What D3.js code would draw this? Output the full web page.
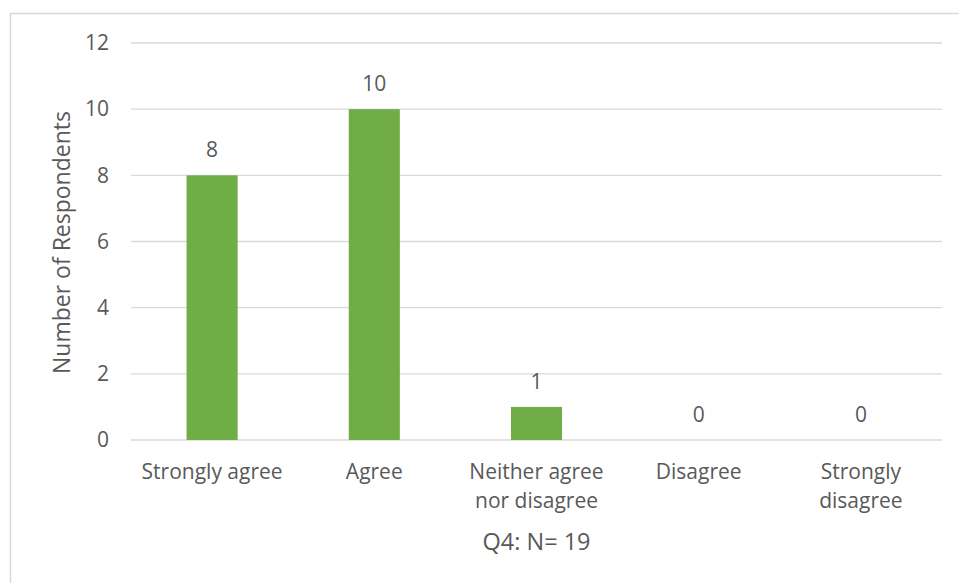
<!DOCTYPE html>
<html>
<head>
<meta charset="utf-8">
<script src="https://cdn.jsdelivr.net/npm/d3@7"></script>
<style>
  body { margin: 0; background: #fff; }
  text { font-family: "Open Sans", sans-serif; fill: #595959; }
</style>
</head>
<body>
<div id="chart"></div>
<script>
//chart data
const categories = ["Strongly agree", "Agree", "Neither agree nor disagree", "Disagree", "Strongly disagree"];
const labelLines = [["Strongly agree"], ["Agree"], ["Neither agree", "nor disagree"], ["Disagree"], ["Strongly", "disagree"]];
const counts = [8, 10, 1, 0, 0];
const yTicks = [0, 2, 4, 6, 8, 10, 12];

const W = 959, H = 583;
const margin = { top: 43, right: 17, bottom: 143, left: 131 },
    width = W - margin.left - margin.right,
    height = H - margin.top - margin.bottom;

const root = d3.select("#chart")
    .append("svg")
    .attr("width", W)
    .attr("height", H);

//chart area border (only top and left visible)
root.append("rect")
    .attr("x", 10.5)
    .attr("y", 13.5)
    .attr("width", W + 20)
    .attr("height", H + 20)
    .attr("fill", "none")
    .attr("stroke", "#d9d9d9")
    .attr("stroke-width", 1.5);

const svg = root.append("g")
    .attr("transform", `translate(${margin.left},${margin.top})`);

const x = d3.scaleBand()
    .domain(categories)
    .range([0, width])
    .paddingInner(0.685)
    .paddingOuter(0.3425);

const y = d3.scaleLinear()
    .domain([0, 12])
    .range([height, 0]);

//gridlines
svg.append("g")
    .selectAll("line")
    .data(yTicks)
    .enter().append("line")
    .attr("x1", 0)
    .attr("x2", width)
    .attr("y1", d => y(d))
    .attr("y2", d => y(d))
    .attr("stroke", "#d9d9d9")
    .attr("stroke-width", 1.3);

//y axis labels
const yAxis = svg.append("g")
    .call(d3.axisLeft(y).tickValues(yTicks).tickSize(0).tickPadding(22));
yAxis.select(".domain").remove();
yAxis.selectAll("text")
    .style("font-size", "21px")
    .style("font-family", "Open Sans, sans-serif")
    .attr("fill", "#595959");

//bars
svg.append("g")
    .selectAll("rect")
    .data(counts)
    .enter().append("rect")
    .attr("x", (d, i) => x(categories[i]))
    .attr("y", d => y(d))
    .attr("width", x.bandwidth())
    .attr("height", d => y(0) - y(d))
    .attr("fill", "#70ad47");

//data labels
svg.append("g")
    .selectAll("text")
    .data(counts)
    .enter().append("text")
    .attr("x", (d, i) => x(categories[i]) + x.bandwidth() / 2)
    .attr("y", d => y(d) - 18)
    .attr("text-anchor", "middle")
    .style("font-size", "21px")
    .text(d => d);

//category labels
const catG = svg.append("g")
    .selectAll("text")
    .data(labelLines)
    .enter().append("text")
    .attr("x", (d, i) => x(categories[i]) + x.bandwidth() / 2)
    .attr("y", height + 39)
    .attr("text-anchor", "middle")
    .style("font-size", "21px");
catG.selectAll("tspan")
    .data(d => d)
    .enter().append("tspan")
    .attr("x", function () { return d3.select(this.parentNode).attr("x"); })
    .attr("dy", (d, i) => i === 0 ? 0 : 29)
    .text(d => d);

//x axis title
svg.append("text")
    .attr("x", width / 2)
    .attr("y", height + 110)
    .attr("text-anchor", "middle")
    .style("font-size", "23.5px")
    .text("Q4: N= 19");

//y axis title
svg.append("text")
    .attr("transform", `translate(${62 - margin.left},${height / 2 + 1}) rotate(-90)`)
    .attr("text-anchor", "middle")
    .attr("dy", "0.35em")
    .style("font-size", "23px")
    .text("Number of Respondents");
</script>
</body>
</html>
